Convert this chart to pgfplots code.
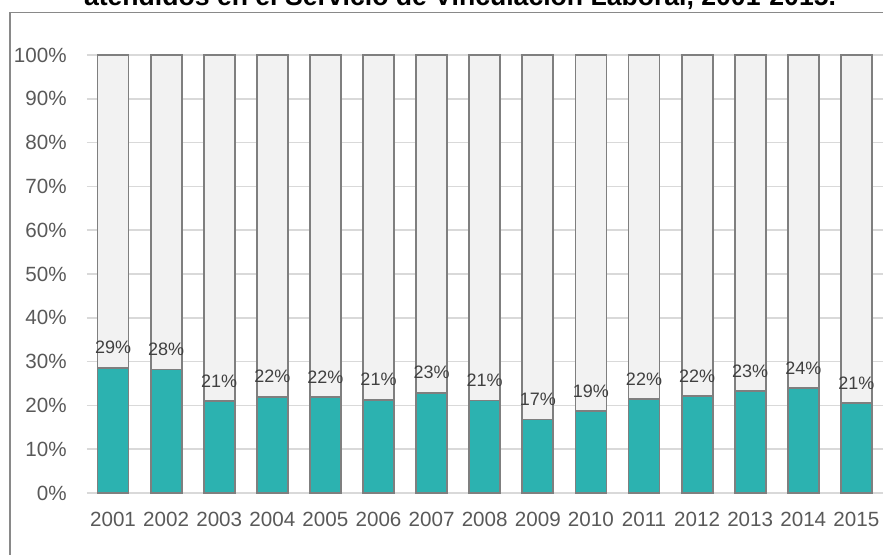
\documentclass[border=0pt]{standalone}
\usepackage{pgfplots}
\pgfplotsset{compat=1.18}
\usepackage{pgfplotstable}
\usepackage{fontspec}
\setmainfont{Liberation Sans}
\definecolor{teal1}{HTML}{2CB2B0}
\definecolor{restgray}{HTML}{F2F2F2}
\definecolor{edgegray}{HTML}{7F7F7F}
\definecolor{gridgray}{HTML}{D9D9D9}
\definecolor{ticktext}{HTML}{595959}
\definecolor{labtext}{HTML}{404040}
\definecolor{framegray}{HTML}{898989}
\pgfplotstableread{
x val lab
0 28.6 29\%
1 28.2 28\%
2 21.0 21\%
3 22.0 22\%
4 21.9 22\%
5 21.3 21\%
6 22.9 23\%
7 21.1 21\%
8 16.8 17\%
9 18.7 19\%
10 21.4 22\%
11 22.1 22\%
12 23.3 23\%
13 24.0 24\%
14 20.6 21\%
}\share
\pgfplotstableread{
x total
0 100
1 100
2 100
3 100
4 100
5 100
6 100
7 100
8 100
9 100
10 100
11 100
12 100
13 100
14 100
}\totals
\begin{document}
\begin{tikzpicture}
\begin{axis}[
  at={(0,0)}, anchor=south west,
  scale only axis,
  width=399.3pt, height=219pt,
  xmin=-0.49, xmax=14.55,
  ymin=0, ymax=100,
  ybar, bar shift=0pt,
  bar width=15.5pt,
  axis line style={draw=none},
  clip=false,
  ymajorgrids,
  grid style={gridgray, line width=0.8pt},
  ytick={0,10,...,100},
  yticklabel={\pgfmathprintnumber{\tick}\%},
  xtick={0,...,14},
  xticklabels={2001,2002,2003,2004,2005,2006,2007,2008,2009,2010,2011,2012,2013,2014,2015},
  major tick length=0pt,
  tick label style={font=\fontsize{10.3}{12}\selectfont, text=ticktext, inner sep=0pt},
  yticklabel style={anchor=east, xshift=-10pt},
  xticklabel style={anchor=north, yshift=-9.5pt},
  /pgf/number format/assume math mode=true,
]
\addplot[fill=restgray, draw=edgegray, line width=0.9pt] table[x=x, y=total] {\totals};
\addplot[fill=teal1, draw=edgegray, line width=0.9pt,
  point meta=explicit symbolic,
  nodes near coords,
  every node near coord/.style={anchor=center, yshift=10pt, font=\fontsize{9}{10}\selectfont, text=labtext, inner sep=0pt},
] table[x=x, y=val, meta=lab] {\share};
\end{axis}
\draw[framegray, line width=0.8pt] (-38.5pt,-40pt) -- (-38.5pt,240.2pt) -- (420pt,240.2pt);
\node[anchor=base, font=\bfseries\fontsize{13.3}{16}\selectfont, inner sep=0pt] at (186.5pt,244pt) {atendidos en el Servicio de Vinculación Laboral, 2001-2015.};
\pgfresetboundingbox
\path[use as bounding box] (-43.5pt,-30.5pt) rectangle (398pt,246.5pt);
\end{tikzpicture}
\end{document}
